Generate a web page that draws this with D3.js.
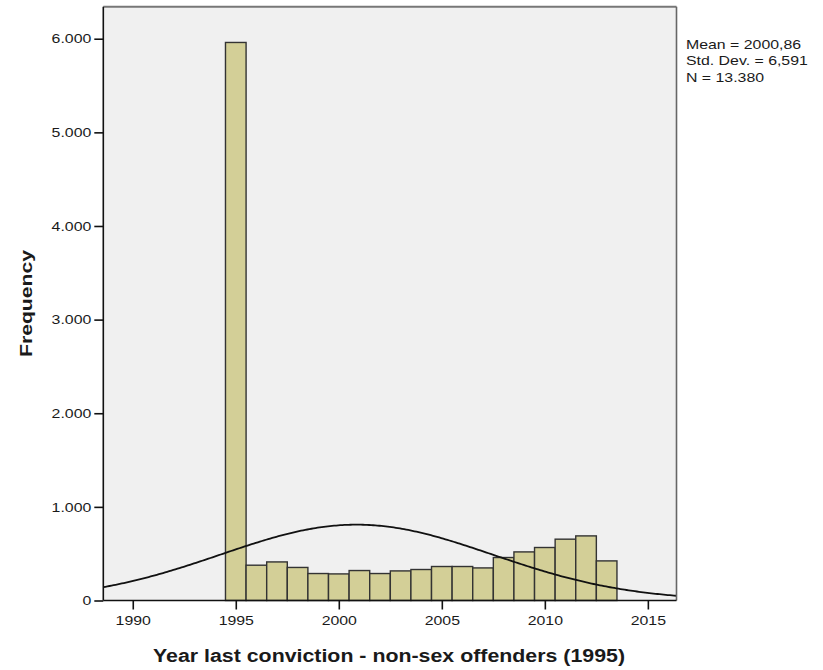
<!DOCTYPE html>
<html>
<head>
<meta charset="utf-8">
<script src="https://cdn.jsdelivr.net/npm/d3@7"></script>
<style>
  html, body { margin: 0; padding: 0; background: #ffffff; }
  svg { display: block; }
  text { font-family: "Liberation Sans", Arial, sans-serif; fill: #1a1a1a; }
</style>
</head>
<body>
<svg id="chart" width="823" height="670"></svg>
<script>
// ---- data ----
const years = [1995, 1996, 1997, 1998, 1999, 2000, 2001, 2002, 2003, 2004,
               2005, 2006, 2007, 2008, 2009, 2010, 2011, 2012, 2013];
const counts = [5960, 377, 412, 353, 288, 284, 320, 288, 316, 331,
                363, 363, 348, 459, 519, 566, 655, 690, 423];
const xTicks = [1990, 1995, 2000, 2005, 2010, 2015];
const yTicks = [0, 1000, 2000, 3000, 4000, 5000, 6000];
const statsLines = ["Mean = 2000,86", "Std. Dev. = 6,591", "N = 13.380"];
const statMean = 2000.86, statSd = 6.591, statN = 13380, binWidth = 1;
const xTitle = "Year last conviction - non-sex offenders (1995)";
const yTitle = "Frequency";

// ---- layout ----
const plot = { left: 103.3, right: 676.5, top: 6.7, bottom: 600.5 };
const stretch = 1.22;

const svg = d3.select("#chart");
const x = d3.scaleLinear().domain([1988.57, 2016.39]).range([plot.left, plot.right]);
const y = d3.scaleLinear().domain([0, 6342]).range([plot.bottom, plot.top]);

const loc = d3.formatLocale({ decimal: ",", thousands: ".", grouping: [3], currency: ["", ""] });
const fmt = loc.format(",d");

// plot background
svg.append("rect")
  .attr("x", plot.left).attr("y", plot.top)
  .attr("width", plot.right - plot.left).attr("height", plot.bottom - plot.top)
  .attr("fill", "#f0f0f0");

// clip
svg.append("clipPath").attr("id", "clip").append("rect")
  .attr("x", plot.left).attr("y", plot.top)
  .attr("width", plot.right - plot.left).attr("height", plot.bottom - plot.top);

// bars
svg.append("g").selectAll("rect").data(years).join("rect")
  .attr("x", (d) => x(d - binWidth / 2))
  .attr("width", (d) => x(d + binWidth / 2) - x(d - binWidth / 2))
  .attr("y", (d, i) => y(counts[i]))
  .attr("height", (d, i) => y(0) - y(counts[i]))
  .attr("fill", "#d3cf97")
  .attr("stroke", "#333333")
  .attr("stroke-width", 1.4);

// normal curve from stated mean / sd / N
const xs = d3.range(x.domain()[0], x.domain()[1] + 0.05, 0.1);
const dens = (v) => statN * binWidth / (statSd * Math.sqrt(2 * Math.PI)) *
  Math.exp(-0.5 * Math.pow((v - statMean) / statSd, 2));
svg.append("path")
  .attr("clip-path", "url(#clip)")
  .attr("d", d3.line().x((v) => x(v)).y((v) => y(dens(v)))(xs))
  .attr("fill", "none")
  .attr("stroke", "#111")
  .attr("stroke-width", 1.8);

// frame: top and right (grey)
svg.append("line").attr("x1", plot.left).attr("x2", plot.right)
  .attr("y1", plot.top).attr("y2", plot.top)
  .attr("stroke", "#777").attr("stroke-width", 2);
svg.append("line").attr("x1", plot.right).attr("x2", plot.right)
  .attr("y1", plot.top).attr("y2", plot.bottom)
  .attr("stroke", "#666").attr("stroke-width", 1.6);

// axes
const yAxis = svg.append("g")
  .attr("transform", `translate(${plot.left},0)`)
  .call(d3.axisLeft(y).tickValues(yTicks).tickFormat(fmt).tickSize(9).tickPadding(3));
const xAxis = svg.append("g")
  .attr("transform", `translate(0,${plot.bottom})`)
  .call(d3.axisBottom(x).tickValues(xTicks).tickFormat(d3.format("d")).tickSize(9).tickPadding(6));

[yAxis, xAxis].forEach((g) => {
  g.select(".domain").attr("stroke", "#111").attr("stroke-width", 1.6);
  g.selectAll(".tick line").attr("stroke", "#111").attr("stroke-width", 1.6);
  g.selectAll("text").attr("font-size", 13).attr("fill", "#1a1a1a")
    .attr("font-family", '"Liberation Sans", Arial, sans-serif');
});
// fix domain paths (remove outer ticks)
yAxis.select(".domain").attr("d", `M0,${plot.top}V${plot.bottom}`);
xAxis.select(".domain").attr("d", `M${plot.left},0H${plot.right}`);

// stats text
svg.append("g").selectAll("text").data(statsLines).join("text")
  .attr("x", 686)
  .attr("y", (d, i) => 49 + i * 16.4)
  .attr("font-size", 13)
  .text((d) => d);

// axis titles
svg.append("text")
  .attr("x", 389).attr("y", 662)
  .attr("text-anchor", "middle")
  .attr("font-size", 18).attr("font-weight", "bold")
  .attr("class", "fixed").attr("data-len", 472)
  .text(xTitle);
svg.append("text")
  .attr("transform", "translate(32,303.5) rotate(-90)")
  .attr("text-anchor", "middle")
  .attr("font-size", 16).attr("font-weight", "bold")
  .attr("class", "fixed").attr("data-len", 107)
  .text(yTitle);

// widen glyphs horizontally to match the reference's wide rendering
svg.selectAll("text").each(function () {
  const el = d3.select(this);
  const fixed = el.attr("data-len");
  const w = this.getComputedTextLength();
  el.attr("textLength", fixed ? +fixed : w * stretch).attr("lengthAdjust", "spacingAndGlyphs");
});
</script>
</body>
</html>
